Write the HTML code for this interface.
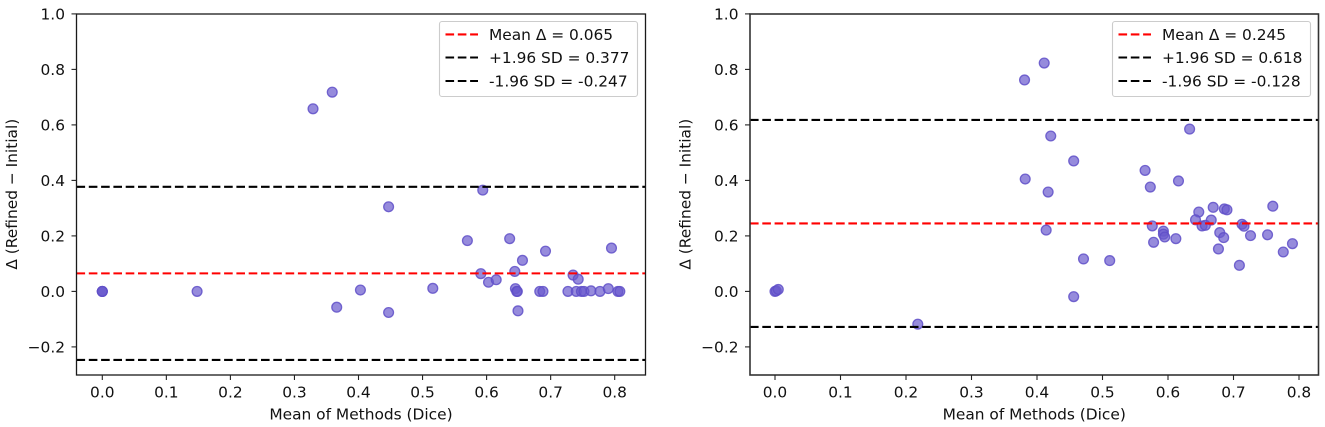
<!DOCTYPE html>
<html lang="en">
<head>
<meta charset="utf-8">
<title>Bland-Altman plots</title>
<style>
html,body{margin:0;padding:0;background:#fff;width:1325px;height:427px;overflow:hidden}
svg{display:block}
text{font-family:"DejaVu Sans","Liberation Sans",sans-serif;fill:#111}
</style>
</head>
<body>
<svg id="fig" xmlns="http://www.w3.org/2000/svg" width="1325" height="427" viewBox="0 0 1325 427"></svg>
<script>
const xTicks = [0, 0.1, 0.2, 0.3, 0.4, 0.5, 0.6, 0.7, 0.8];
const yTicks = [-0.2, 0, 0.2, 0.4, 0.6, 0.8, 1.0];
const xTitle = "Mean of Methods (Dice)";
const yTitle = "Δ (Refined − Initial)";

const leftMeans = [0,0,0,0.148,0.329,0.359,0.366,0.403,0.447,0.447,0.516,0.594,0.570,0.636,0.692,0.795,0.656,0.591,0.644,0.603,0.615,0.735,0.743,0.645,0.647,0.648,0.683,0.688,0.727,0.740,0.748,0.752,0.763,0.777,0.790,0.805,0.808,0.649];
const leftDeltas = [0,0,0,0,0.658,0.718,-0.057,0.005,-0.076,0.305,0.011,0.365,0.183,0.190,0.145,0.156,0.112,0.064,0.072,0.033,0.042,0.059,0.044,0.010,0,0,0,0,0,0,0,0,0.002,0,0.010,0,0,-0.070];
const leftBias = 0.065;
const leftUpper = 0.377;
const leftLower = -0.247;

const rightMeans = [0,0.002,0.005,0.218,0.381,0.411,0.382,0.421,0.417,0.414,0.456,0.633,0.565,0.573,0.616,0.647,0.669,0.686,0.690,0.760,0.642,0.666,0.652,0.657,0.576,0.713,0.716,0.593,0.593,0.595,0.612,0.578,0.679,0.685,0.726,0.752,0.677,0.790,0.776,0.709,0.471,0.511,0.456];
const rightDeltas = [0,0.002,0.007,-0.118,0.762,0.823,0.405,0.560,0.358,0.221,0.470,0.585,0.436,0.376,0.398,0.286,0.303,0.297,0.294,0.307,0.258,0.257,0.236,0.238,0.236,0.242,0.235,0.217,0.206,0.196,0.190,0.177,0.212,0.194,0.201,0.204,0.153,0.172,0.142,0.094,0.117,0.111,-0.019];
const rightBias = 0.245;
const rightUpper = 0.618;
const rightLower = -0.128;

const NS = "http://www.w3.org/2000/svg";
const fig = document.getElementById("fig");

function mk(parent, tag, attrs, txt) {
  const e = document.createElementNS(NS, tag);
  for (const k in attrs) e.setAttribute(k, attrs[k]);
  if (txt !== undefined) e.textContent = txt;
  parent.appendChild(e);
  return e;
}
function fmt(v) {
  return (v < 0 ? "−" : "") + Math.abs(v).toFixed(1);
}

function drawPanel(cfg) {
  const g = mk(fig, "g", {});
  
  
  const sx = v => cfg.x0 + v * cfg.xUnit;
  const sy = v => 291.4 - v * 277.5;
  const L = cfg.left, R = cfg.right, T = 14, B = 375;
  const FS = 15.4;

  const lines = [[cfg.upper, "#000", "upper-limit-line"], [cfg.lower, "#000", "lower-limit-line"], [cfg.bias, "#f00", "mean-difference-line"]];

  cfg.xs.forEach((v, i) => {
    const c = mk(g, "circle", {cx: sx(v), cy: sy(cfg.ys[i]), r: 4.9, fill: "#6a5acd", "fill-opacity": 0.7, stroke: "#5f4fc8", "stroke-opacity": 0.85, "stroke-width": 1.3});
    
    
  });

  lines.forEach(l => {
    const ln = mk(g, "line", {x1: L, x2: R, y1: sy(l[0]), y2: sy(l[0]), stroke: l[1], "stroke-width": 2.1, "stroke-dasharray": "8.6 3.7"});
    
    
  });

  const frame = mk(g, "rect", {x: L, y: T, width: R - L, height: B - T, fill: "none", stroke: cfg.spine, "stroke-width": cfg.spineWidth});
  
  

  xTicks.forEach(v => {
    const tk = mk(g, "line", {x1: sx(v), x2: sx(v), y1: B, y2: B + 5, stroke: "#222", "stroke-width": 1.1});
    
    
    const lb = mk(g, "text", {x: sx(v), y: 397.5, "text-anchor": "middle", "font-size": FS}, fmt(v));
    
    
  });
  yTicks.forEach(v => {
    const tk = mk(g, "line", {x1: L - 5, x2: L, y1: sy(v), y2: sy(v), stroke: "#222", "stroke-width": 1.1});
    
    
    const lb = mk(g, "text", {x: L - 11.5, y: sy(v) + 5.6, "text-anchor": "end", "font-size": FS}, fmt(v));
    
    
  });

  const xt = mk(g, "text", {x: (L + R) / 2, y: 419.3, "text-anchor": "middle", "font-size": FS}, xTitle);
  
  
  const yt = mk(g, "text", {x: 0, y: 0, "text-anchor": "middle", "font-size": FS, transform: "translate(" + cfg.yTitleX + " 194.2) rotate(-90)"}, yTitle);
  
  

  const lg = mk(g, "g", {});
  
  
  const bx = R - 206, by = 21.5;
  const box = mk(lg, "rect", {x: bx, y: by, width: 198, height: 75, rx: 2.5, fill: "#fff", "fill-opacity": 0.8, stroke: "#ccc", "stroke-width": 1.1});
  
  
  const entries = [
    ["#f00", "Mean Δ = " + cfg.bias.toFixed(3), 34.4, "legend-entry-mean"],
    ["#000", "+1.96 SD = " + cfg.upper.toFixed(3), 57.5, "legend-entry-upper"],
    ["#000", "-1.96 SD = " + cfg.lower.toFixed(3), 81, "legend-entry-lower"]
  ];
  entries.forEach(en => {
    const h = mk(lg, "line", {x1: bx + 6, x2: bx + 38.5, y1: en[2], y2: en[2], stroke: en[0], "stroke-width": 2.1, "stroke-dasharray": "8.6 3.7"});
    
    
    const t = mk(lg, "text", {x: bx + 49.5, y: en[2] + 5.6, "font-size": FS}, en[1]);
    
    
  });
}

drawPanel({name: "left-panel", left: 76.5, right: 645.5, x0: 102.3, xUnit: 640.5, yTitleX: 17, spine: "#1a1a1a", spineWidth: 1.3, xs: leftMeans, ys: leftDeltas, bias: leftBias, upper: leftUpper, lower: leftLower});
drawPanel({name: "right-panel", left: 750, right: 1318.5, x0: 775, xUnit: 655, yTitleX: 690.5, spine: "#333", spineWidth: 1.6, xs: rightMeans, ys: rightDeltas, bias: rightBias, upper: rightUpper, lower: rightLower});
</script>
</body>
</html>
